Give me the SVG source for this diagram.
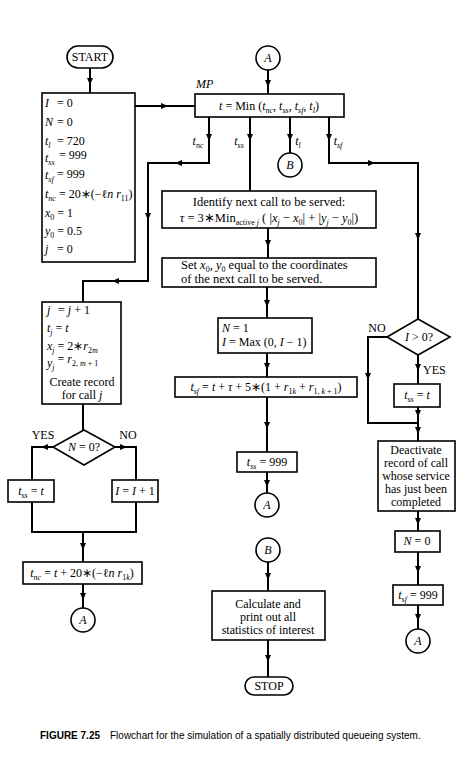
<svg xmlns="http://www.w3.org/2000/svg" width="462" height="774" viewBox="0 0 462 774">
<style>
.bx{fill:#fff;stroke:#000;stroke-width:1.6}
.ln{fill:none;stroke:#000;stroke-width:2}
.t{font-family:"Liberation Serif","Times New Roman",serif;font-size:12px;fill:#000}
.b{font-size:12.5px}
.m{text-anchor:middle}
.i{font-style:italic}
.s{font-size:8px;baseline-shift:-3px}
.ah{fill:#000}
.cap{font-family:"Liberation Sans",Arial,sans-serif;font-size:10px;fill:#000}
</style>
<defs>
<path id="ad" class="ah" d="M-3,-4 L3,-4 L0,3 Z"/>
<path id="ar" class="ah" d="M-4,-3 L-4,3 L3,0 Z"/>
<path id="al" class="ah" d="M4,-3 L4,3 L-3,0 Z"/>
</defs>
<rect width="462" height="774" fill="#fff"/>

<g id="connectors">
<path class="ln" d="M90,68 V93"/><use href="#ad" x="90" y="82"/>
<path class="ln" d="M135,106 H195"/><use href="#ar" x="165" y="106"/>
<path class="ln" d="M268,70 V94"/><use href="#ad" x="268" y="84"/>
<path class="ln" d="M209,117 V163 H148 V281 H83 V302"/>
<use href="#ad" x="209" y="138"/><use href="#al" x="178" y="163"/><use href="#ad" x="148" y="217"/><use href="#al" x="115" y="281"/>
<path class="ln" d="M250,117 V191"/><use href="#ad" x="250" y="138"/>
<path class="ln" d="M290,117 V153"/><use href="#ad" x="290" y="138"/>
<path class="ln" d="M329,117 V163 H418 V319"/>
<use href="#ad" x="329" y="138"/><use href="#ar" x="372" y="163"/><use href="#ad" x="418" y="237"/>
<path class="ln" d="M268,228 V258"/><use href="#ad" x="268" y="244"/>
<path class="ln" d="M267,287 V318"/><use href="#ad" x="267" y="304"/>
<path class="ln" d="M267,353 V377"/><use href="#ad" x="267" y="367"/>
<path class="ln" d="M267,397 V452"/><use href="#ad" x="267" y="426"/>
<path class="ln" d="M267,472 V493"/><use href="#ad" x="267" y="484"/>
<path class="ln" d="M83,404 V430"/>
<path class="ln" d="M53,447 H32 V480"/><use href="#al" x="44" y="447"/>
<path class="ln" d="M115,447 H136 V480"/><use href="#ar" x="124" y="447"/>
<path class="ln" d="M32,502 V532 H136 V502"/>
<path class="ln" d="M83,532 V562"/><use href="#ad" x="83" y="547"/>
<path class="ln" d="M83,584 V608"/><use href="#ad" x="83" y="597"/>
<path class="ln" d="M387,337 H368 V423 H418"/><use href="#ad" x="368" y="377"/>
<path class="ln" d="M418,355 V384"/><use href="#ad" x="418" y="368"/>
<path class="ln" d="M418,407 V441"/><use href="#ad" x="418" y="414"/><use href="#ad" x="418" y="431"/>
<path class="ln" d="M418,511 V531"/><use href="#ad" x="418" y="522"/>
<path class="ln" d="M418,552 V585"/><use href="#ad" x="418" y="570"/>
<path class="ln" d="M418,605 V629"/><use href="#ad" x="418" y="618"/>
<path class="ln" d="M268,562 V591"/><use href="#ad" x="268" y="577"/>
<path class="ln" d="M268,640 V677"/><use href="#ad" x="268" y="659"/>
</g>

<g id="labels" class="t">
<text class="i" x="198" y="145" text-anchor="middle">t<tspan class="s">nc</tspan></text>
<text class="i" x="239" y="145" text-anchor="middle">t<tspan class="s">ss</tspan></text>
<text class="i" x="298" y="145" text-anchor="middle">t<tspan class="s">l</tspan></text>
<text class="i" x="338" y="145" text-anchor="middle">t<tspan class="s">sf</tspan></text>
<text x="43" y="439" text-anchor="middle">YES</text>
<text x="128" y="439" text-anchor="middle">NO</text>
<text x="377" y="332" text-anchor="middle">NO</text>
<text x="423" y="374">YES</text>
</g>

<g id="start">
<rect class="bx" x="67" y="46" width="46" height="22" rx="11"/>
<text class="t m" x="90" y="61">START</text>
</g>

<g id="init">
<rect class="bx" x="42" y="93" width="93" height="169"/>
<text class="t" x="45" y="107"><tspan class="i">I</tspan><tspan x="57">= 0</tspan></text>
<text class="t" x="45" y="126"><tspan class="i">N</tspan><tspan x="57">= 0</tspan></text>
<text class="t" x="45" y="145"><tspan class="i">t</tspan><tspan class="s i">l</tspan><tspan x="57">= 720</tspan></text>
<text class="t" x="45" y="162"><tspan class="i">t</tspan><tspan class="s i">ss</tspan><tspan x="59" dy="-3">= 999</tspan></text>
<text class="t" x="45" y="179"><tspan class="i">t</tspan><tspan class="s i">sf</tspan><tspan x="57" dy="-1">= 999</tspan></text>
<text class="t" x="45" y="198"><tspan class="i">t</tspan><tspan class="s i">nc</tspan> = 20∗(−ℓ<tspan class="i">n r</tspan><tspan class="s">11</tspan>)</text>
<text class="t" x="45" y="217"><tspan class="i">x</tspan><tspan class="s">0</tspan> = 1</text>
<text class="t" x="45" y="235"><tspan class="i">y</tspan><tspan class="s">0</tspan> = 0.5</text>
<text class="t" x="45" y="253"><tspan class="i">j</tspan><tspan x="57">= 0</tspan></text>
</g>

<g id="connA1">
<circle class="bx" cx="268" cy="58" r="12"/>
<text class="t m i" x="268" y="62">A</text>
</g>

<g id="mp">
<text class="t i" x="196" y="88">MP</text>
<rect class="bx" x="195" y="94" width="149" height="23"/>
<text class="t m" x="269" y="110"><tspan class="i">t</tspan> = Min (<tspan class="i">t</tspan><tspan class="s i">nc</tspan>, <tspan class="i">t</tspan><tspan class="s i">ss</tspan>, <tspan class="i">t</tspan><tspan class="s i">sf</tspan>, <tspan class="i">t</tspan><tspan class="s i">l</tspan>)</text>
</g>

<g id="connB1">
<circle class="bx" cx="290" cy="165" r="12"/>
<text class="t m i" x="290" y="169">B</text>
</g>

<g id="identify">
<rect class="bx" x="162" y="191" width="214" height="37"/>
<text class="t b m" x="269" y="206">Identify next call to be served:</text>
<text class="t b m" x="269" y="222"><tspan class="i">τ</tspan> = 3∗Min<tspan class="s">active <tspan class="i">j</tspan></tspan> ( |<tspan class="i">x</tspan><tspan class="s i">j</tspan> − <tspan class="i">x</tspan><tspan class="s">0</tspan>| + |<tspan class="i">y</tspan><tspan class="s i">j</tspan> − <tspan class="i">y</tspan><tspan class="s">0</tspan>|)</text>
</g>

<g id="set">
<rect class="bx" x="162" y="258" width="214" height="29"/>
<text class="t b" x="181" y="269">Set <tspan class="i">x</tspan><tspan class="s">0</tspan>, <tspan class="i">y</tspan><tspan class="s">0</tspan> equal to the coordinates</text>
<text class="t b" x="181" y="283">of the next call to be served.</text>
</g>

<g id="n1">
<rect class="bx" x="218" y="318" width="94" height="35"/>
<text class="t" x="222" y="332"><tspan class="i">N</tspan> = 1</text>
<text class="t" x="222" y="346"><tspan class="i">I</tspan> = Max (0, <tspan class="i">I</tspan> − 1)</text>
</g>

<g id="tsf">
<rect class="bx" x="175" y="377" width="182" height="20"/>
<text class="t m" x="266" y="391"><tspan class="i">t</tspan><tspan class="s i">sf</tspan> = <tspan class="i">t</tspan> + <tspan class="i">τ</tspan> + 5∗(1 + <tspan class="i">r</tspan><tspan class="s">1<tspan class="i">k</tspan></tspan> + <tspan class="i">r</tspan><tspan class="s">1, <tspan class="i">k</tspan> + 1</tspan>)</text>
</g>

<g id="tss999">
<rect class="bx" x="237" y="452" width="60" height="20"/>
<text class="t m" x="267" y="466"><tspan class="i">t</tspan><tspan class="s i">ss</tspan> = 999</text>
</g>

<g id="connA2">
<circle class="bx" cx="267" cy="505" r="12"/>
<text class="t m i" x="267" y="509">A</text>
</g>

<g id="jbox">
<rect class="bx" x="42" y="302" width="79" height="102"/>
<text class="t" x="47" y="314"><tspan class="i">j</tspan><tspan x="58">= <tspan class="i">j</tspan> + 1</tspan></text>
<text class="t" x="47" y="332"><tspan class="i">t</tspan><tspan class="s i">j</tspan> = <tspan class="i">t</tspan></text>
<text class="t" x="47" y="350"><tspan class="i">x</tspan><tspan class="s i">j</tspan> = 2∗<tspan class="i">r</tspan><tspan class="s">2<tspan class="i">m</tspan></tspan></text>
<text class="t" x="47" y="367"><tspan class="i">y</tspan><tspan class="s i">j</tspan><tspan dy="-4"> = <tspan class="i">r</tspan><tspan class="s">2, <tspan class="i">m</tspan> + 1</tspan></tspan></text>
<text class="t m" x="82" y="386">Create record</text>
<text class="t m" x="82" y="399">for call <tspan class="i">j</tspan></text>
</g>

<g id="dN0">
<polygon class="bx" points="84,430 115,447 84,465 53,447"/>
<text class="t m" x="84" y="451"><tspan class="i">N</tspan> = 0?</text>
</g>

<g id="tsst">
<rect class="bx" x="8" y="480" width="46" height="22"/>
<text class="t m" x="31" y="495"><tspan class="i">t</tspan><tspan class="s i">ss</tspan> = <tspan class="i">t</tspan></text>
</g>

<g id="iinc">
<rect class="bx" x="112" y="480" width="46" height="22"/>
<text class="t m" x="135" y="495"><tspan class="i">I</tspan> = <tspan class="i">I</tspan> + 1</text>
</g>

<g id="tnc">
<rect class="bx" x="23" y="562" width="119" height="22"/>
<text class="t m" x="82" y="577"><tspan class="i">t</tspan><tspan class="s i">nc</tspan> = <tspan class="i">t</tspan> + 20∗(−ℓ<tspan class="i">n r</tspan><tspan class="s">1<tspan class="i">k</tspan></tspan>)</text>
</g>

<g id="connA3">
<circle class="bx" cx="83" cy="620" r="12"/>
<text class="t m i" x="83" y="624">A</text>
</g>

<g id="dI0">
<polygon class="bx" points="418,319 450,337 418,355 387,337"/>
<text class="t m" x="419" y="341"><tspan class="i">I</tspan> &gt; 0?</text>
</g>

<g id="tsst2">
<rect class="bx" x="394" y="384" width="46" height="23"/>
<text class="t m" x="417" y="399"><tspan class="i">t</tspan><tspan class="s i">ss</tspan> = <tspan class="i">t</tspan></text>
</g>

<g id="deact">
<rect class="bx" x="378" y="441" width="77" height="70"/>
<text class="t m" x="416" y="454">Deactivate</text>
<text class="t m" x="416" y="467">record of call</text>
<text class="t m" x="416" y="480">whose service</text>
<text class="t m" x="416" y="493">has just been</text>
<text class="t m" x="416" y="506">completed</text>
</g>

<g id="n0">
<rect class="bx" x="395" y="531" width="45" height="21"/>
<text class="t m" x="417" y="545"><tspan class="i">N</tspan> = 0</text>
</g>

<g id="tsf999">
<rect class="bx" x="393" y="585" width="50" height="20"/>
<text class="t m" x="418" y="599"><tspan class="i">t</tspan><tspan class="s i">sf</tspan> = 999</text>
</g>

<g id="connA4">
<circle class="bx" cx="418" cy="641" r="12"/>
<text class="t m i" x="418" y="645">A</text>
</g>

<g id="connB2">
<circle class="bx" cx="268" cy="550" r="12"/>
<text class="t m i" x="268" y="554">B</text>
</g>

<g id="calc">
<rect class="bx" x="212" y="591" width="113" height="49"/>
<text class="t m" x="268" y="608">Calculate and</text>
<text class="t m" x="268" y="621">print out all</text>
<text class="t m" x="268" y="634">statistics of interest</text>
</g>

<g id="stop">
<rect class="bx" x="245" y="677" width="48" height="18" rx="9"/>
<text class="t m" x="269" y="690">STOP</text>
</g>

<g id="caption">
<text class="cap" x="40" y="739"><tspan font-weight="bold">FIGURE 7.25</tspan><tspan x="110">Flowchart for the simulation of a spatially distributed queueing system.</tspan></text>
</g>
</svg>
